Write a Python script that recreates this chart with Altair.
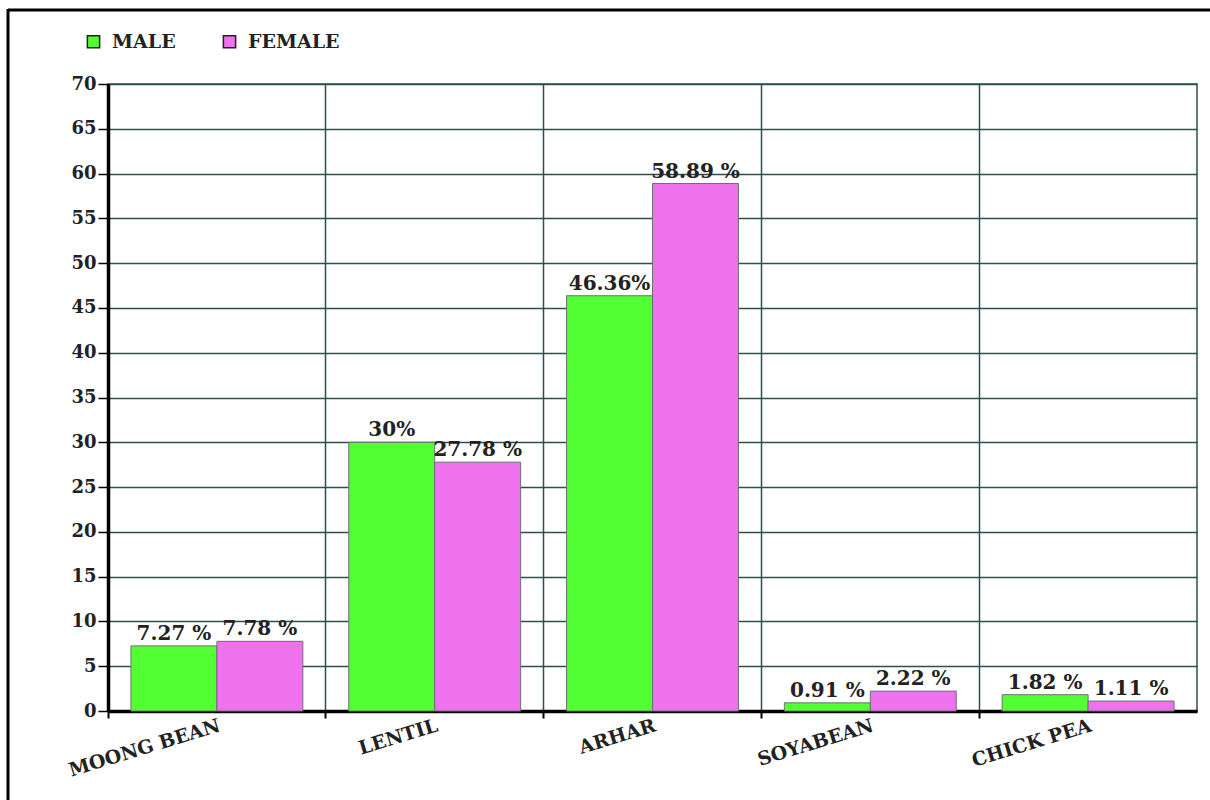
import altair as alt
import pandas as pd

crops = ["MOONG BEAN", "LENTIL", "ARHAR", "SOYABEAN", "CHICK PEA"]
male = [7.27, 30, 46.36, 0.91, 1.82]
female = [7.78, 27.78, 58.89, 2.22, 1.11]
male_labels = ["7.27 %", "30%", "46.36%", "0.91 %", "1.82 %"]
female_labels = ["7.78 %", "27.78 %", "58.89 %", "2.22 %", "1.11 %"]
genders = ["MALE", "FEMALE"]
colors = ["#52FF33", "#EE72EE"]
y_ticks = list(range(0, 75, 5))

rows = []
for c, m, f, ml, fl in zip(crops, male, female, male_labels, female_labels):
    rows.append({"crop": c, "gender": "MALE", "value": m, "label": ml})
    rows.append({"crop": c, "gender": "FEMALE", "value": f, "label": fl})
df = pd.DataFrame(rows)

W, H = 1089, 627
FONT = "DejaVu Serif"

x_enc = alt.X(
    "crop:N",
    sort=crops,
    title=None,
    scale=alt.Scale(paddingInner=0, paddingOuter=0),
    axis=alt.Axis(
        bandPosition=0,
        labelAngle=343,
        labelAlign="right",
        labelBaseline="top",
        labelPadding=-2,
        labelFont=FONT,
        labelFontWeight="bold",
        labelFontSize=19,
        labelColor="#222222",
        tickSize=7,
        tickColor="#000000",
        tickWidth=2,
        domainColor="#000000",
        domainWidth=3.5,
        grid=True,
        gridColor="#2F4F4F",
        gridWidth=1.5,
    ),
)
xoff = alt.XOffset(
    "gender:N", sort=genders,
    scale=alt.Scale(paddingInner=0, paddingOuter=0.267),
)
y_enc = alt.Y(
    "value:Q",
    title=None,
    scale=alt.Scale(domain=[0, 70], nice=False),
    axis=alt.Axis(
        values=y_ticks,
        labelFont=FONT,
        labelFontWeight="bold",
        labelFontSize=18,
        labelColor="#222222",
        labelPadding=2,
        tickSize=10,
        tickColor="#000000",
        tickWidth=1.5,
        domainColor="#000000",
        domainWidth=3.5,
        grid=True,
        gridColor="#2F4F4F",
        gridWidth=1.5,
    ),
)
color_enc = alt.Color(
    "gender:N",
    sort=genders,
    scale=alt.Scale(domain=genders, range=colors),
    legend=alt.Legend(
        title=None,
        orient="none",
        legendX=-24,
        legendY=-52,
        direction="horizontal",
        symbolType="square",
        symbolSize=150,
        symbolStrokeColor="#222222",
        symbolStrokeWidth=1.5,
        labelFont=FONT,
        labelFontWeight="bold",
        labelFontSize=19,
        labelColor="#222222",
        columnPadding=44,
        labelOffset=9,
    ),
)

base = alt.Chart(df)
bars = base.mark_bar(stroke="#6f6f6f", strokeWidth=1).encode(
    x=x_enc, xOffset=xoff, y=y_enc, color=color_enc
)
texts = base.mark_text(
    baseline="bottom", dy=-2, font=FONT, fontWeight="bold", fontSize=20, color="#222222"
).encode(x=alt.X("crop:N", sort=crops), xOffset=xoff, y="value:Q", text="label:N")

frame_df = pd.DataFrame({"k": [0]})
top_line = alt.Chart(frame_df).mark_rule(color="#000000", strokeWidth=3).encode(
    x=alt.value(-100), x2=alt.value(1110), y=alt.value(-74)
)
left_line = alt.Chart(frame_df).mark_rule(color="#000000", strokeWidth=3).encode(
    x=alt.value(-100), y=alt.value(-75), y2=alt.value(720)
)

chart = alt.layer(bars, texts, top_line, left_line).properties(
    width=W,
    height=H,
    autosize="none",
    padding={"left": 108, "top": 84, "right": 13, "bottom": 89},
    background="#ffffff",
).configure_view(stroke="#2F4F4F", strokeWidth=1.5)

chart.save("out.html", embed_options={"renderer": "svg", "actions": False})
